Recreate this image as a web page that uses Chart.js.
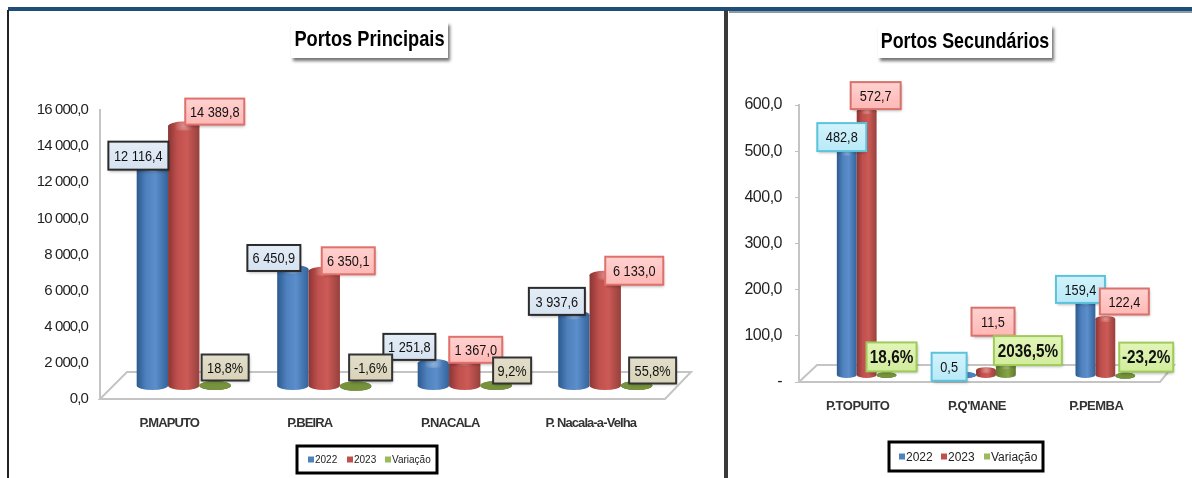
<!DOCTYPE html>
<html>
<head>
<meta charset="utf-8">
<title>Portos</title>
<script src="https://cdn.jsdelivr.net/npm/chart.js@4/dist/chart.umd.min.js"></script>
<style>
  html, body { margin: 0; padding: 0; background: #fff; }
  #page { position: relative; width: 1192px; height: 478px; overflow: hidden; }
  canvas { position: absolute; top: 0; filter: blur(0.5px); }
  #chartMain { left: 0; }
  #chartSec { left: 729px; }
  .line { position: absolute; }
</style>
</head>
<body>
<div id="page">
  <canvas id="chartMain" width="724" height="478"></canvas>
  <canvas id="chartSec" width="463" height="478"></canvas>
  <div class="line" style="left:8px;top:7px;width:1184px;height:4px;background:#1f4e79"></div>
  <div class="line" style="left:729px;top:11px;width:463px;height:2px;background:#8a9aa8"></div>
  <div class="line" style="left:7px;top:10px;width:2px;height:468px;background:#222"></div>
  <div class="line" style="left:724px;top:10px;width:4px;height:468px;background:#3a3a3a"></div>
</div>
<script>
const seriesNames = ['2022', '2023', 'Variação'];

const mainCategories = ['P.MAPUTO', 'P.BEIRA', 'P.NACALA', 'P. Nacala-a-Velha'];
const main2022 = [12116.4, 6450.9, 1251.8, 3937.6];
const main2023 = [14389.8, 6350.1, 1367.0, 6133.0];
const mainVariacao = [0.188, -0.016, 0.092, 0.558];

const secCategories = ['P.TOPUITO', "P.Q'MANE", 'P.PEMBA'];
const sec2022 = [482.8, 0.5, 159.4];
const sec2023 = [572.7, 11.5, 122.4];
const secVariacao = [0.186, 20.365, -0.232];

// label boxes, relative to the top of their bar: [dx, dy, w, h] per series per category
const mainBoxes = [
  [[-14, -16, 60, 28], [-19, -16, 53, 26], [-24, -21, 52, 26], [-17, -18, 56, 27]],
  [[31, -19, 59, 26], [24, -15, 53, 27], [11, -16, 53, 26], [29, -9, 58, 28]],
  [[10, -23, 47, 26], [15, -23, 43, 26], [16, -20, 38, 26], [16, -20, 47, 26]],
];
const secBoxes = [
  [[-5, -16, 49, 28], [-17, -9, 35, 28], [-5, -13, 49, 27]],
  [[9, -16, 50, 27], [7, -49, 43, 28], [19, -18, 49, 26]],
  [[5, -19, 50, 29], [22, -16, 68, 29], [21, -19, 54, 29]],
];

const FONT = '"Liberation Sans", Arial, sans-serif';
const BLUE = ['#2c5a8f', '#4f81bd', '#5b8ecb', '#33639b'];
const RED = ['#8c3533', '#c0504d', '#cc5a56', '#96403d'];
const GREEN = ['#5f7a2e', '#76923c', '#86a447', '#5f7a2e'];

function fmtNum(v, decimals) {
  const parts = v.toFixed(decimals).split('.');
  parts[0] = parts[0].replace(/\B(?=(\d{3})+$)/g, ' ');
  return parts.join(',');
}

function fmtPct(v) {
  return (v * 100).toFixed(1).replace('.', ',') + '%';
}

// the original uses a condensed face, so squeeze the text horizontally
function narrowText(ctx, text, x, y, squeeze) {
  ctx.save();
  ctx.translate(x, y);
  ctx.scale(squeeze, 1);
  ctx.fillText(text, 0, 0);
  ctx.restore();
}

function drawCylinder(ctx, bar, colors, ry) {
  const half = bar.width / 2;
  const left = bar.x - half;
  const right = bar.x + half;
  const top = Math.min(bar.y, bar.base);
  const bottom = bar.base;

  const grad = ctx.createLinearGradient(left, 0, right, 0);
  grad.addColorStop(0, colors[0]);
  grad.addColorStop(0.3, colors[1]);
  grad.addColorStop(0.6, colors[2]);
  grad.addColorStop(1, colors[3]);

  ctx.fillStyle = grad;
  ctx.beginPath();
  ctx.ellipse(bar.x, bottom, half, ry, 0, 0, Math.PI);
  ctx.lineTo(left, top);
  ctx.lineTo(right, top);
  ctx.closePath();
  ctx.fill();

  // top cap
  ctx.beginPath();
  ctx.ellipse(bar.x, top, half, ry, 0, 0, Math.PI * 2);
  ctx.fill();

  // nearly flat bars are only a plain disc
  if (bottom - top < 2) {
    ctx.fillStyle = colors[1];
    ctx.fill();
    return;
  }
  const glow = ctx.createRadialGradient(bar.x, top, 0, bar.x, top, half * 0.6);
  glow.addColorStop(0, 'rgba(255,255,255,0.35)');
  glow.addColorStop(1, 'rgba(255,255,255,0)');
  ctx.fillStyle = glow;
  ctx.beginPath();
  ctx.ellipse(bar.x, top, half, ry, 0, 0, Math.PI * 2);
  ctx.fill();
}

// cylinders + floor, replaces the flat bars
const cylinders = {
  id: 'cylinders',
  beforeDraw(chart, args, opts) {
    chart.ctx.letterSpacing = opts.tickSpacing;
  },
  beforeDatasetsDraw(chart, args, opts) {
    const { ctx, chartArea } = chart;
    ctx.save();
    ctx.strokeStyle = '#c4c4c4';
    ctx.lineWidth = 2;
    ctx.beginPath();
    ctx.moveTo(chartArea.left, chartArea.bottom);
    ctx.lineTo(chartArea.left + opts.depthX, chartArea.bottom - opts.depthY);
    ctx.lineTo(chartArea.right + opts.depthR, chartArea.bottom - opts.depthY);
    ctx.lineTo(chartArea.right + 3, chartArea.bottom);
    ctx.closePath();
    ctx.stroke();

    ctx.translate(opts.shiftX, -opts.shiftY);
    [BLUE, RED, GREEN].forEach((colors, i) => {
      chart.getDatasetMeta(i).data.forEach((bar) => {
        drawCylinder(ctx, bar, colors, opts.ry);
      });
    });
    ctx.restore();
    return false;
  },
};

function drawBox(ctx, cx, cy, w, h, style, text) {
  const x = cx - w / 2;
  const y = cy - h / 2;
  ctx.save();
  ctx.shadowColor = 'rgba(0,0,0,0.35)';
  ctx.shadowBlur = 3;
  ctx.shadowOffsetX = 1;
  ctx.shadowOffsetY = 2;
  const grad = ctx.createLinearGradient(0, y, 0, y + h);
  grad.addColorStop(0, style.fill[0]);
  grad.addColorStop(1, style.fill[1]);
  ctx.fillStyle = grad;
  ctx.fillRect(x, y, w, h);
  ctx.restore();
  ctx.strokeStyle = style.border;
  ctx.lineWidth = 2;
  ctx.strokeRect(x, y, w, h);
  ctx.fillStyle = '#111';
  ctx.font = style.font;
  ctx.textAlign = 'center';
  ctx.textBaseline = 'middle';
  narrowText(ctx, text, cx, cy + 1, 0.85);
}

const valueLabels = {
  id: 'valueLabels',
  afterDraw(chart, args, opts) {
    const { ctx } = chart;
    ctx.save();
    ctx.letterSpacing = '0px';
    ctx.translate(opts.shiftX, -opts.shiftY);
    chart.data.datasets.forEach((ds, i) => {
      chart.getDatasetMeta(i).data.forEach((bar, j) => {
        const b = opts.boxes[i][j];
        const text = i === 2 ? fmtPct(ds.data[j]) : fmtNum(ds.data[j], 1);
        drawBox(ctx, bar.x + b[0], bar.y + b[1], b[2], b[3], opts.styles[i], text);
      });
    });
    ctx.restore();
  },
};

const titleAndLegend = {
  id: 'titleAndLegend',
  afterDraw(chart, args, opts) {
    const { ctx } = chart;
    ctx.save();
    ctx.letterSpacing = '0px';
    // title
    const t = opts.title;
    ctx.shadowColor = 'rgba(0,0,0,0.55)';
    ctx.shadowBlur = 3;
    ctx.shadowOffsetX = 2;
    ctx.shadowOffsetY = 3;
    ctx.fillStyle = '#fff';
    ctx.fillRect(t.x, t.y, t.w, t.h);
    ctx.shadowColor = 'transparent';
    ctx.fillStyle = '#000';
    ctx.font = 'bold ' + t.size + 'px ' + FONT;
    ctx.textAlign = 'center';
    ctx.textBaseline = 'middle';
    narrowText(ctx, t.text, t.x + t.w / 2, t.y + t.h / 2, t.squeeze);

    // legend
    const l = opts.legend;
    ctx.strokeStyle = '#000';
    ctx.lineWidth = 3;
    ctx.strokeRect(l.x, l.y, l.w, l.h);
    ctx.textAlign = 'left';
    ctx.font = l.size + 'px ' + FONT;
    chart.data.datasets.forEach((ds, i) => {
      ctx.fillStyle = ds.backgroundColor;
      ctx.fillRect(l.items[i], l.y + l.h / 2 - 3, 6, 6);
      ctx.fillStyle = '#222';
      ctx.fillText(ds.label, l.items[i] + 7, l.y + l.h / 2 + 1);
    });
    ctx.restore();
  },
};

function makeChart(id, cfg) {
  return new Chart(document.getElementById(id), {
    type: 'bar',
    data: {
      labels: cfg.categories,
      datasets: [
        { label: seriesNames[0], data: cfg.series[0], backgroundColor: '#4f81bd' },
        { label: seriesNames[1], data: cfg.series[1], backgroundColor: '#c0504d' },
        { label: seriesNames[2], data: cfg.series[2], backgroundColor: '#9bbb59' },
      ],
    },
    options: {
      responsive: false,
      animation: false,
      layout: { padding: cfg.padding },
      datasets: {
        bar: { categoryPercentage: cfg.groupWidth, barPercentage: 1 },
      },
      scales: {
        x: {
          grid: { display: false },
          border: { display: false },
          afterFit(scale) { scale.height = 50; },
          ticks: {
            labelOffset: -1,
            padding: 9,
            maxRotation: 0,
            color: '#333',
            font: { family: FONT, size: cfg.catSize, weight: 'bold' },
          },
        },
        y: {
          min: 0,
          max: cfg.max,
          afterFit(scale) { scale.width = cfg.axisWidth; },
          grid: {
            drawOnChartArea: false,
            drawTicks: cfg.tickMarks,
            tickLength: 4,
            tickColor: '#bfbfbf',
          },
          border: { color: '#c4c4c4', width: 2 },
          ticks: {
            stepSize: cfg.step,
            padding: cfg.tickPad,
            color: '#1f1f1f',
            font: { family: FONT, size: cfg.tickSize },
            callback: cfg.tickFormat,
          },
        },
      },
      plugins: {
        legend: { display: false },
        title: { display: false },
        cylinders: cfg.bars,
        valueLabels: { shiftX: cfg.bars.shiftX, shiftY: cfg.labelShift, boxes: cfg.boxes, styles: cfg.styles },
        titleAndLegend: { title: cfg.title, legend: cfg.legend },
      },
    },
    plugins: [cylinders, valueLabels, titleAndLegend],
  });
}

const labelFont = '15px ' + FONT;

makeChart('chartMain', {
  categories: mainCategories,
  series: [main2022, main2023, mainVariacao],
  max: 16000,
  step: 2000,
  groupWidth: 0.67,
  axisWidth: 100,
  tickPad: 12,
  tickMarks: false,
  tickSize: 15,
  catSize: 13,
  padding: { left: 0, right: 62, top: 110, bottom: 29 },
  tickFormat: (v) => fmtNum(v, 1),
  boxes: mainBoxes,
  labelShift: 8.5,
  bars: { shiftX: 13.5, shiftY: 13, ry: 4.5, depthX: 27, depthY: 27, depthR: 29, tickSpacing: '-0.9px' },
  styles: [
    { fill: ['#e4edf7', '#d6e2f1'], border: '#2b2b2b', font: labelFont },
    { fill: ['#ffd2d0', '#ffb8b5'], border: '#e0706c', font: labelFont },
    { fill: ['#e2deca', '#d8d3b8'], border: '#333', font: labelFont },
  ],
  title: { text: 'Portos Principais', x: 291, y: 22, w: 157, h: 36, size: 22, squeeze: 0.83 },
  legend: { x: 297, y: 446, w: 140, h: 27, size: 10, items: [308, 347, 385] },
});

makeChart('chartSec', {
  categories: secCategories,
  series: [sec2022, sec2023, secVariacao],
  max: 600,
  step: 100,
  groupWidth: 0.5,
  axisWidth: 70,
  tickPad: 13,
  tickMarks: true,
  tickSize: 16,
  catSize: 13,
  padding: { left: 0, right: 35, top: 105, bottom: 46 },
  tickFormat: (v) => (v === 0 ? '-' : fmtNum(v, 1)),
  boxes: secBoxes,
  labelShift: 6,
  bars: { shiftX: 8, shiftY: 6.5, ry: 3, depthX: 18, depthY: 17, depthR: 17, tickSpacing: '-0.5px' },
  styles: [
    { fill: ['#d2f3fb', '#b8e9f7'], border: '#5cc3dc', font: labelFont },
    { fill: ['#ffd2d0', '#ffb8b5'], border: '#d9716d', font: labelFont },
    { fill: ['#e2f5b8', '#d2ec9c'], border: '#9fcb5a', font: 'bold 18px ' + FONT },
  ],
  title: { text: 'Portos Secundários', x: 149, y: 25, w: 174, h: 33, size: 22, squeeze: 0.81 },
  legend: { x: 160, y: 442, w: 154, h: 29, size: 12, items: [170, 212, 255] },
});
</script>
</body>
</html>
